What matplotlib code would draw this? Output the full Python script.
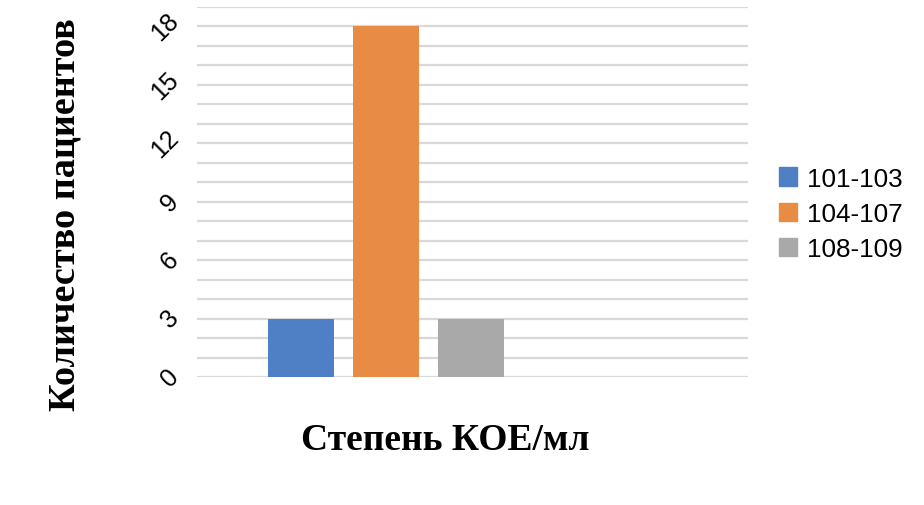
import matplotlib
matplotlib.use("Agg")
import matplotlib.pyplot as plt
from matplotlib.patches import Patch

series = ["101-103", "104-107", "108-109"]
values = [3, 18, 3]
colors = ["#4f7fc4", "#e88b45", "#a9a9a9"]
yticks = [0, 3, 6, 9, 12, 15, 18]

fig = plt.figure(figsize=(9.24, 5.06), dpi=100)
ax = fig.add_axes([197/924, 1-378/506, (748-197)/924, (378-8)/506])

xs = list(range(len(series)))
ax.bar(xs, values, width=0.776, color=colors, zorder=3)
ax.set_xlim(-1.22, 5.26)
ax.set_ylim(0, 19)
for y in range(0, 20):
    ax.axhline(y, color="#d9d9d9", lw=1.6, zorder=1)
for s in ax.spines.values():
    s.set_visible(False)
ax.set_xticks([])
ax.set_yticks(yticks)
ax.set_yticklabels([str(t) for t in yticks], rotation=45, fontsize=18,
                   family="Liberation Sans", va="center", ha="right")
ax.tick_params(axis="y", length=0, pad=10)

fig.text(65/924, 1-215/506, "Количество пациентов", family="Liberation Serif",
         fontweight="bold", fontsize=27.5, rotation=90, ha="center", va="center")
fig.text(445/924, 1-441/506, "Степень КОЕ/мл", family="Liberation Serif",
         fontweight="bold", fontsize=27, ha="center", va="center")

handles = [Patch(color=c, label=s) for c, s in zip(colors, series)]
fig.legend(handles=handles, loc="center left", bbox_to_anchor=(755/924, 1-215/506),
           frameon=False, prop={"family": "Liberation Sans", "size": 18.8},
           handlelength=0.7, handleheight=0.7, handletextpad=0.38, labelspacing=0.43)

fig.savefig("out.png", dpi=100)
